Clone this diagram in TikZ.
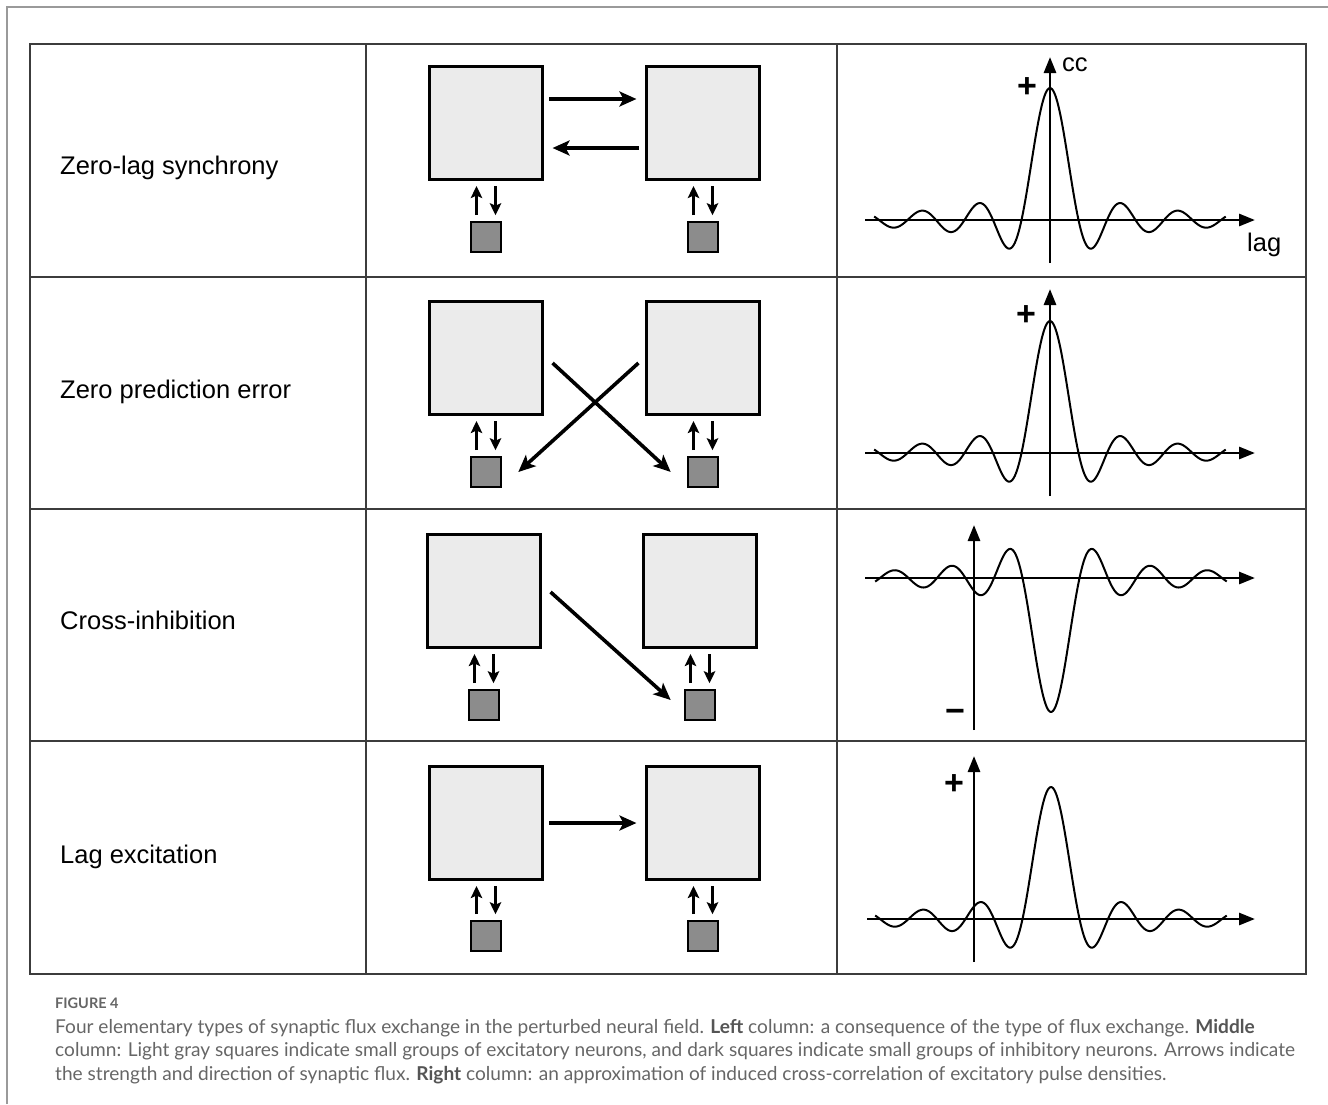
\documentclass[tikz,border=0pt]{standalone}
\usepackage{fontspec}
\setmainfont{Liberation Sans}
\newfontfamily\capfont{Lato}
\usepackage{xcolor}
\definecolor{excgray}{HTML}{EBEBEB}
\definecolor{inhgray}{HTML}{8C8C8C}
\definecolor{rulegray}{HTML}{3C3C3C}
\definecolor{framegray}{HTML}{9A9A9A}
\definecolor{capgray}{HTML}{666666}
\definecolor{capdark}{HTML}{555555}
\usepackage{tikz}
\usetikzlibrary{
  arrows.meta,
}

\begin{document}
\begin{tikzpicture}[
  x=1pt, y=-1pt,
  exc/.style={
    draw=black, fill=excgray, line width=2.6pt,
    minimum size=112.5pt, inner sep=0pt,
  },
  inh/.style={
    draw=black, fill=inhgray, line width=2.6pt,
    minimum size=30pt, inner sep=0pt,
  },
  flux/.style={
    line width=3.6pt, -{Stealth[length=17pt, width=15pt, inset=4pt]},
  },
  loc/.style={
    line width=2.4pt, -{Stealth[length=12pt, width=11.5pt, inset=2.5pt]},
    shorten <=5.5pt, shorten >=5.5pt,
  },
  axis/.style={
    line width=2.8pt, -{Triangle[length=16pt, width=12pt]},
  },
  curve/.style={line width=2pt, line join=round},
  tablerule/.style={draw=rulegray, line width=1.6pt},
  rowlbl/.style={
    font=\fontsize{25.5}{30}\selectfont, anchor=base west, inner sep=0pt,
  },
  pm/.style={font=\fontsize{34}{36}\selectfont\bfseries, inner sep=0pt},
  declare function={sinc(\u) = (abs(\u) < 0.001) ? 1 : sin(180*(\u))/(pi*(\u));},
]
  \useasboundingbox (0,0) rectangle (1328,1104);

  % Outer frame and table
  \draw[framegray, line width=1.5pt] (7,1104) -- (7,7) -- (1328,7);
  \draw[tablerule] (30,44) rectangle (1306,974);
  \draw[tablerule] (366,44) -- (366,974);
  \draw[tablerule] (837,44) -- (837,974);
  \draw[tablerule] (30,277) -- (1306,277);
  \draw[tablerule] (30,509) -- (1306,509);
  \draw[tablerule] (30,741) -- (1306,741);

  % Left column
  \node[rowlbl] (zls) at (60,174) {Zero-lag synchrony};
  \node[rowlbl] (zpe) at (60,398) {Zero prediction error};
  \node[rowlbl] (cri) at (60,629) {Cross-inhibition};
  \node[rowlbl] (lex) at (60,863) {Lag excitation};

  % Middle column: excitatory and inhibitory groups
  \node[exc] (a1) at (486,123) {};
  \node[exc] (b1) at (703,123) {};
  \node[inh] (p1) at (486,237) {};
  \node[inh] (q1) at (703,237) {};

  \node[exc] (a2) at (486,358) {};
  \node[exc] (b2) at (703,358) {};
  \node[inh] (p2) at (486,472) {};
  \node[inh] (q2) at (703,472) {};

  \node[exc] (a3) at (484,591) {};
  \node[exc] (b3) at (700,591) {};
  \node[inh] (p3) at (484,705) {};
  \node[inh] (q3) at (700,705) {};

  \node[exc] (a4) at (486,823) {};
  \node[exc] (b4) at (703,823) {};
  \node[inh] (p4) at (486,936) {};
  \node[inh] (q4) at (703,936) {};

  % Local exchange
  \foreach \s/\b in {p1/a1, q1/b1, p2/a2, q2/b2, p3/a3, q3/b3, p4/a4, q4/b4} {
    \draw[loc] ([xshift=-9.5pt]\s.north) -- ([xshift=-9.5pt]\b.south);
    \draw[loc] ([xshift=9.5pt]\b.south) -- ([xshift=9.5pt]\s.north);
  }

  % Synaptic flux
  \draw[flux, shorten <=5.5pt, shorten >=9pt]
    ([yshift=24pt]a1.east) -- ([yshift=24pt]b1.west);
  \draw[flux, shorten <=6.5pt, shorten >=9pt]
    ([yshift=-25pt]b1.west) -- ([yshift=-25pt]a1.east);
  \draw[flux] ([xshift=9pt,yshift=-5pt]a2.east) -- ([xshift=-16pt]q2.west);
  \draw[flux] ([xshift=-7pt,yshift=-5pt]b2.west) -- ([xshift=16pt]p2.east);
  \draw[flux] ([xshift=9pt,yshift=-1pt]a3.east) -- ([xshift=-13pt,yshift=5pt]q3.west);
  \draw[flux, shorten <=5.5pt, shorten >=9pt] (a4) -- (b4);

  % Right column: cross-correlations
  \draw[axis] (865,220) -- (1255,220);
  \draw[axis] (1050,263) -- (1050,57);
  \draw[curve] plot[domain=-6.17:6.17, samples=301] ({1050+28.5*\x}, {220-132*sinc(\x)});
  \node[rowlbl] (cc) at (1062,71) {cc};
  \node[rowlbl] (lag) at (1247,251) {lag};
  \node[pm] (plus1) at (1027,88) {+};

  \draw[axis] (865,453) -- (1255,453);
  \draw[axis] (1050,496) -- (1050,289);
  \draw[curve] plot[domain=-6.17:6.17, samples=301] ({1050+28.5*\x}, {453-132*sinc(\x)});
  \node[pm] (plus2) at (1026,316) {+};

  \draw[axis] (865,578) -- (1255,578);
  \draw[axis] (974,730) -- (974,525);
  \draw[curve] plot[domain=-6.17:6.17, samples=301] ({1051+28.5*\x}, {578+134*sinc(\x)});
  \node[pm] (minus3) at (955,716) {−};

  \draw[axis] (867,919) -- (1255,919);
  \draw[axis] (974,962) -- (974,756);
  \draw[curve] plot[domain=-6.17:6.17, samples=301] ({1051+28.5*\x}, {919-132*sinc(\x)});
  \node[pm] (plus4) at (954,785) {+};

  % Caption
  \node[anchor=base west, inner sep=0pt, text=capgray,
    font=\capfont\bfseries\fontsize{14.5}{16}\selectfont] (fig) at (55,1008) {FIGURE 4};
  \node[anchor=north west, inner sep=0pt, text=capgray, align=left,
    font=\capfont\fontsize{19.1}{23.5}\selectfont] (cap) at (55,1019)
    {Four elementary types of synaptic flux exchange in the perturbed neural field. \textbf{\color{capdark}Left} column: a consequence of the type of flux exchange. \textbf{\color{capdark}Middle}\\
     column: Light gray squares indicate small groups of excitatory neurons, and dark squares indicate small groups of inhibitory neurons. Arrows indicate\\
     the strength and direction of synaptic flux. \textbf{\color{capdark}Right} column: an approximation of induced cross-correlation of excitatory pulse densities.};
\end{tikzpicture}
\end{document}
